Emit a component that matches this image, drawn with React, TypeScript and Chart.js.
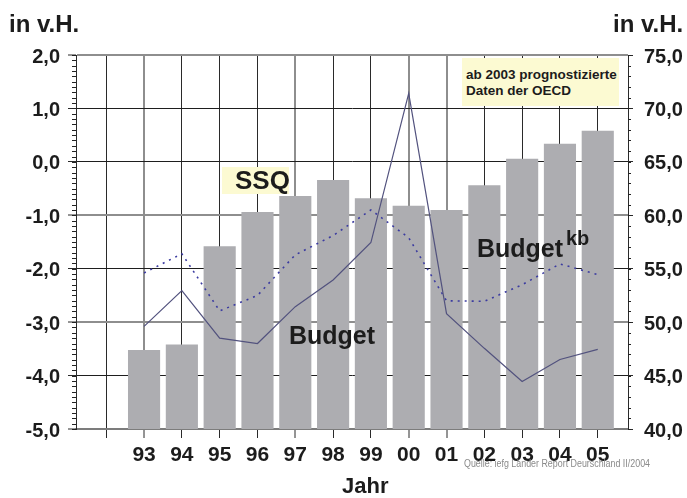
import React, { useEffect, useLayoutEffect, useRef } from 'react';
import { Chart, registerables } from 'chart.js';

Chart.register(...registerables);

// ---- data ----
const years = ['93', '94', '95', '96', '97', '98', '99', '00', '01', '02', '03', '04', '05'];
const ssqValues = [47.4, 47.9, 57.1, 60.3, 61.8, 63.3, 61.6, 60.9, 60.5, 62.8, 65.3, 66.7, 67.9];
const budgetValues = [-3.08, -2.41, -3.3, -3.4, -2.71, -2.21, -1.51, 1.28, -2.84, -3.49, -4.11, -3.7, -3.51];
const budgetKbValues = [-2.08, -1.72, -2.79, -2.5, -1.74, -1.38, -0.9, -1.42, -2.6, -2.61, -2.3, -1.91, -2.11];
const leftMin = -5;
const leftMax = 2;
const rightMin = 40;
const rightMax = 75;

const FONT = '"Liberation Sans", Arial, Helvetica, sans-serif';
const TEXT = '#1c1c1c';
const NOTE_BG = '#fcfad2';

const grayRows = [2, -1, -3, -5];
const grayCols = [0, 4, 7, 8];

const fmt = (v: number) => v.toFixed(1).replace('.', ',');

const minorTicks = {
  id: 'minorTicks',
  afterDraw(chart: any) {
    const { ctx, scales } = chart;
    const y = scales.y;
    const y1 = scales.y1;
    ctx.save();
    ctx.strokeStyle = '#222';
    ctx.lineWidth = 1;
    ctx.beginPath();
    for (let k = 0; k <= (leftMax - leftMin) * 10; k++) {
      const p = Math.round(y.getPixelForValue(leftMin + k / 10)) + 0.5;
      ctx.moveTo(y.right - 4, p);
      ctx.lineTo(y.right, p);
    }
    for (let k = 0; k <= rightMax - rightMin; k++) {
      const p = Math.round(y1.getPixelForValue(rightMin + k)) + 0.5;
      ctx.moveTo(y1.left, p);
      ctx.lineTo(y1.left + 3, p);
    }
    ctx.stroke();
    ctx.restore();
  },
};

function Label(props: { text: React.ReactNode; left: number; baseline: number; size: number; color?: string; weight?: string }) {
  const { text, left, baseline, size, color = TEXT, weight = 'bold' } = props;
  return (
    <div
      style={{
        position: 'absolute',
        left,
        top: baseline - 0.8465 * size,
        fontFamily: FONT,
        fontSize: size,
        lineHeight: `${size}px`,
        fontWeight: weight as any,
        color,
        whiteSpace: 'nowrap',
      }}
    >
      {text}
    </div>
  );
}

function Condensed(props: { text: string; left: number; baseline: number; size: number; width: number; color: string }) {
  const ref = useRef<HTMLDivElement>(null);
  const { text, left, baseline, size, width, color } = props;
  useLayoutEffect(() => {
    const el = ref.current;
    if (!el) return;
    el.style.transform = 'none';
    const w = el.getBoundingClientRect().width;
    if (w > 0) el.style.transform = `scaleX(${width / w})`;
  }, [text, width]);
  return (
    <div
      ref={ref}
      style={{
        position: 'absolute',
        left,
        top: baseline - 0.8465 * size,
        fontFamily: FONT,
        fontSize: size,
        lineHeight: `${size}px`,
        color,
        whiteSpace: 'nowrap',
        transformOrigin: '0 0',
      }}
    >
      {text}
    </div>
  );
}

export default function App() {
  const canvasRef = useRef<HTMLCanvasElement>(null);

  useEffect(() => {
    const canvas = canvasRef.current;
    if (!canvas) return;
    const chart = new Chart(canvas, {
      type: 'bar',
      data: {
        datasets: [
          {
            type: 'line',
            label: 'Budget',
            data: years.map((_, i) => ({ x: i, y: budgetValues[i] })),
            yAxisID: 'y',
            borderColor: '#52527e',
            borderWidth: 1.2,
            pointRadius: 0,
            tension: 0,
            order: 0,
          } as any,
          {
            type: 'line',
            label: 'Budget kb',
            data: years.map((_, i) => ({ x: i, y: budgetKbValues[i] })),
            yAxisID: 'y',
            borderColor: '#3b3ba0',
            borderWidth: 1.6,
            borderDash: [2, 5],
            pointRadius: 0,
            tension: 0,
            order: 1,
          } as any,
          {
            type: 'bar',
            label: 'SSQ',
            data: years.map((_, i) => ({ x: i, y: ssqValues[i] })),
            yAxisID: 'y1',
            backgroundColor: '#adadb1',
            borderWidth: 0,
            categoryPercentage: 1,
            barPercentage: 0.85,
            order: 2,
          } as any,
        ],
      },
      options: {
        responsive: false,
        animation: false,
        devicePixelRatio: 1,
        layout: { padding: { left: 0, right: 0, top: 55, bottom: 0 } },
        plugins: { legend: { display: false }, tooltip: { enabled: false }, title: { display: false } },
        scales: {
          x: {
            type: 'linear',
            position: 'bottom',
            offset: false,
            min: -1.8,
            max: 12.8,
            afterBuildTicks: (scale: any) => {
              scale.ticks = [-1, ...years.map((_, i) => i)].map((value) => ({ value }));
            },
            afterFit: (scale: any) => {
              scale.height = 69;
            },
            ticks: {
              autoSkip: false,
              maxRotation: 0,
              padding: 5,
              color: TEXT,
              font: { family: FONT, size: 21, weight: 'bold' },
              callback: (value: any) => (years[value as number] !== undefined ? years[value as number] : ''),
            },
            grid: {
              offset: false,
              drawOnChartArea: true,
              color: (ctx: any) => (ctx.tick && grayCols.includes(ctx.tick.value) ? '#8e8e8e' : '#2a2a2a'),
              lineWidth: (ctx: any) => (ctx.tick && grayCols.includes(ctx.tick.value) ? 2 : 1),
              tickColor: '#2a2a2a',
              tickWidth: 1,
              tickLength: 9,
            },
            border: { display: true, color: '#7c7c7c', width: 2 },
          } as any,
          y: {
            type: 'linear',
            position: 'left',
            min: leftMin,
            max: leftMax,
            afterFit: (scale: any) => {
              scale.width = 76;
            },
            ticks: {
              stepSize: 1,
              padding: 8,
              labelOffset: 2,
              color: TEXT,
              font: { family: FONT, size: 20, weight: 'bold' },
              callback: (v: any) => fmt(Number(v)),
            },
            grid: {
              color: (ctx: any) => (ctx.tick && grayRows.includes(ctx.tick.value) ? '#8e8e8e' : '#1e1e1e'),
              lineWidth: (ctx: any) => (ctx.tick && grayRows.includes(ctx.tick.value) ? 2 : 1),
              tickColor: '#2a2a2a',
              tickWidth: 1,
              tickLength: 8,
            },
            border: { display: true, color: '#2a2a2a', width: 1 },
          } as any,
          y1: {
            type: 'linear',
            position: 'right',
            min: rightMin,
            max: rightMax,
            afterFit: (scale: any) => {
              scale.width = 59;
            },
            ticks: {
              stepSize: 5,
              padding: 11,
              labelOffset: 2,
              color: TEXT,
              font: { family: FONT, size: 20, weight: 'bold' },
              callback: (v: any) => fmt(Number(v)),
            },
            grid: {
              drawOnChartArea: false,
              color: '#2a2a2a',
              tickColor: '#2a2a2a',
              tickWidth: 1,
              tickLength: 5,
            },
            border: { display: true, color: '#2a2a2a', width: 1 },
          } as any,
        },
      },
      plugins: [minorTicks],
    });
    return () => chart.destroy();
  }, []);

  return (
    <div style={{ position: 'absolute', left: 0, top: 0, width: 687, height: 498, background: '#fff', overflow: 'hidden' }}>
      <canvas ref={canvasRef} width={687} height={498} style={{ position: 'absolute', left: 0, top: 0, width: 687, height: 498 }} />
      <Label text="in v.H." left={9} baseline={32} size={24} />
      <Label text="in v.H." left={613} baseline={32} size={24} />

      <div style={{ position: 'absolute', left: 462, top: 58, width: 157, height: 48, background: NOTE_BG }} />
      <Label text="ab 2003 prognostizierte" left={466} baseline={79} size={13.5} />
      <Label text="Daten der OECD" left={466} baseline={95.7} size={13.5} />

      <div style={{ position: 'absolute', left: 222, top: 167, width: 67, height: 27, background: NOTE_BG }} />
      <Label text="SSQ" left={235} baseline={189} size={26} />

      <Label text="Budget" left={289} baseline={344} size={25} />
      <Label text="Budget" left={477} baseline={257} size={25} />
      <Label text="kb" left={566} baseline={245} size={20} />

      <Label text="Jahr" left={342} baseline={494} size={22} />
      <Condensed text="Quelle: iefg Länder Report Deurschland II/2004" left={464} baseline={467.5} size={10} width={186} color="#8a8a8a" />
    </div>
  );
}
